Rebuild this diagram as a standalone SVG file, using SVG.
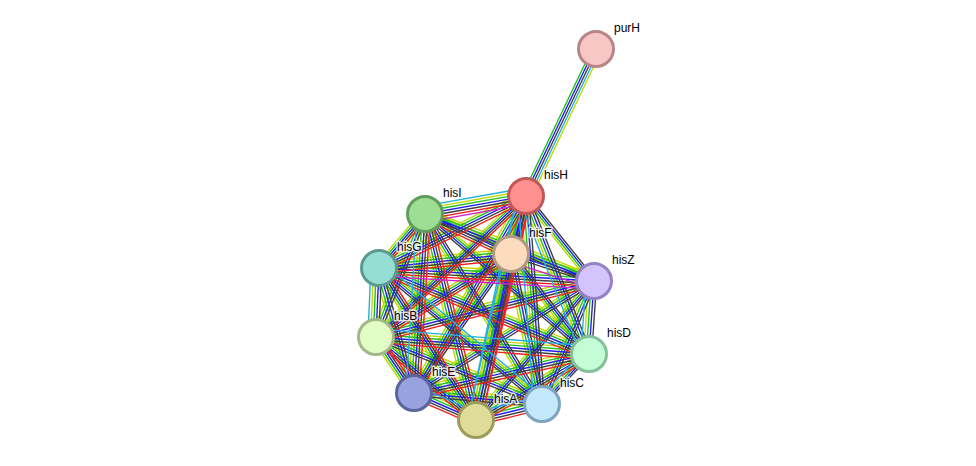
<svg xmlns="http://www.w3.org/2000/svg" xmlns:xlink="http://www.w3.org/1999/xlink" width="976" height="466" viewBox="0 0 976 466">
<style>
.e{fill:none;stroke-width:1.4}
.y{stroke:#c2d800}.g{stroke:#1fc01f}.b{stroke:#2020f0}.k{stroke:#404040}.r{stroke:#f02020}.c{stroke:#20b0e0}.m{stroke:#d020d0}
.n{stroke-width:3}
.t{font-family:"Liberation Sans",Arial,sans-serif;font-size:12px;fill:#000;stroke:#fff;stroke-width:3;stroke-opacity:0.8;paint-order:stroke;stroke-linejoin:round}
</style>
<defs>
<path id="Va" class="e" d="M526 196L511 254M526 196L594 281M526 196L589 354M526 196L414 393M526 196L542 404M526 196L476 420M425 214L379 268M425 214L376 337M425 214L414 393M425 214L542 404M425 214L476 420M511 254L589 354M511 254L414 393M511 254L542 404M511 254L476 420M379 268L376 337M379 268L414 393M379 268L476 420M594 281L589 354M594 281L542 404M594 281L476 420M376 337L414 393M589 354L542 404"/>
<path id="Ha" class="e" d="M526 196L425 214M526 196L379 268M526 196L376 337M425 214L511 254M425 214L594 281M425 214L589 354M511 254L379 268M511 254L594 281M511 254L376 337M379 268L594 281M379 268L589 354M379 268L542 404M594 281L376 337M594 281L414 393M376 337L589 354M376 337L542 404M376 337L476 420M589 354L414 393M589 354L476 420M414 393L542 404M414 393L476 420M542 404L476 420"/>
<path id="Vr" class="e" d="M526 196L511 254M526 196L476 420M526 196L414 393M425 214L379 268M425 214L414 393M425 214L476 420M511 254L476 420M379 268L476 420M376 337L414 393"/>
<path id="Hr" class="e" d="M526 196L425 214M526 196L379 268M526 196L376 337M425 214L511 254M511 254L379 268M511 254L376 337M379 268L594 281M379 268L589 354M376 337L589 354M376 337L476 420M594 281L376 337M414 393L476 420M589 354L476 420M589 354L414 393M542 404L476 420"/>
<path id="Vc" class="e" d="M526 196L511 254M526 196L476 420M511 254L476 420M425 214L414 393M379 268L376 337M589 354L542 404M594 281L589 354M526 196L589 354M526 196L542 404"/>
<path id="Hc" class="e" d="M526 196L425 214M376 337L589 354M414 393L476 420M542 404L476 420M379 268L542 404"/>
<path id="Hm" class="e" d="M379 268L594 281M511 254L594 281M526 196L425 214"/>
</defs>
<g id="connectors">
<g id="purH-hisH">
<line class="e g" x1="592" y1="49" x2="522" y2="196"/>
<line class="e b" x1="594.5" y1="49" x2="524.5" y2="196"/>
<line class="e k" x1="597" y1="49" x2="527" y2="196"/>
<line class="e c" x1="599.5" y1="49" x2="529.5" y2="196"/>
<line class="e y" x1="602" y1="49" x2="532" y2="196"/>
</g>
<use href="#Va" xlink:href="#Va" class="y" transform="translate(-5.4,0)"/>
<use href="#Ha" xlink:href="#Ha" class="y" transform="translate(0,-5.4)"/>
<use href="#Va" xlink:href="#Va" class="g" transform="translate(-2.7,0)"/>
<use href="#Ha" xlink:href="#Ha" class="g" transform="translate(0,-2.7)"/>
<use href="#Va" xlink:href="#Va" class="b"/>
<use href="#Ha" xlink:href="#Ha" class="b"/>
<use href="#Va" xlink:href="#Va" class="k" transform="translate(2.7,0)"/>
<use href="#Ha" xlink:href="#Ha" class="k" transform="translate(0,2.7)"/>
<use href="#Vr" xlink:href="#Vr" class="r" transform="translate(5.4,0)"/>
<use href="#Hr" xlink:href="#Hr" class="r" transform="translate(0,5.4)"/>
<use href="#Vc" xlink:href="#Vc" class="c" transform="translate(-8.1,0)"/>
<use href="#Hc" xlink:href="#Hc" class="c" transform="translate(0,-8.1)"/>
<use href="#Hm" xlink:href="#Hm" class="m" transform="translate(0,8.1)"/>
</g>
<g id="purH"><circle class="n" cx="596" cy="49" r="17.5" fill="#f9c6c6" stroke="#b88686"/><text class="t" x="614" y="32">purH</text></g>
<g id="hisH"><circle class="n" cx="526" cy="196" r="17.5" fill="#ff9090" stroke="#c05858"/><text class="t" x="544" y="179">hisH</text></g>
<g id="hisI"><circle class="n" cx="425" cy="214" r="17.5" fill="#9ede94" stroke="#5e9e5a"/><text class="t" x="443" y="197">hisI</text></g>
<g id="hisF"><circle class="n" cx="511" cy="254" r="17.5" fill="#fddcbe" stroke="#b09a84"/><text class="t" x="529" y="237">hisF</text></g>
<g id="hisG"><circle class="n" cx="379" cy="268" r="17.5" fill="#96ddd4" stroke="#5c9a90"/><text class="t" x="397" y="251">hisG</text></g>
<g id="hisZ"><circle class="n" cx="594" cy="281" r="17.5" fill="#d4c4fc" stroke="#9482c4"/><text class="t" x="612" y="264">hisZ</text></g>
<g id="hisB"><circle class="n" cx="376" cy="337" r="17.5" fill="#e2fec6" stroke="#a2b888"/><text class="t" x="394" y="320">hisB</text></g>
<g id="hisD"><circle class="n" cx="589" cy="354" r="17.5" fill="#c4fcd8" stroke="#84c09a"/><text class="t" x="607" y="337">hisD</text></g>
<g id="hisE"><circle class="n" cx="414" cy="393" r="17.5" fill="#98a2de" stroke="#5c649e"/><text class="t" x="432" y="376">hisE</text></g>
<g id="hisC"><circle class="n" cx="542" cy="404" r="17.5" fill="#c4e8fc" stroke="#7ea4c0"/><text class="t" x="560" y="387">hisC</text></g>
<g id="hisA"><circle class="n" cx="476" cy="420" r="17.5" fill="#dedc98" stroke="#9e9c5a"/><text class="t" x="494" y="403">hisA</text></g>
</svg>
